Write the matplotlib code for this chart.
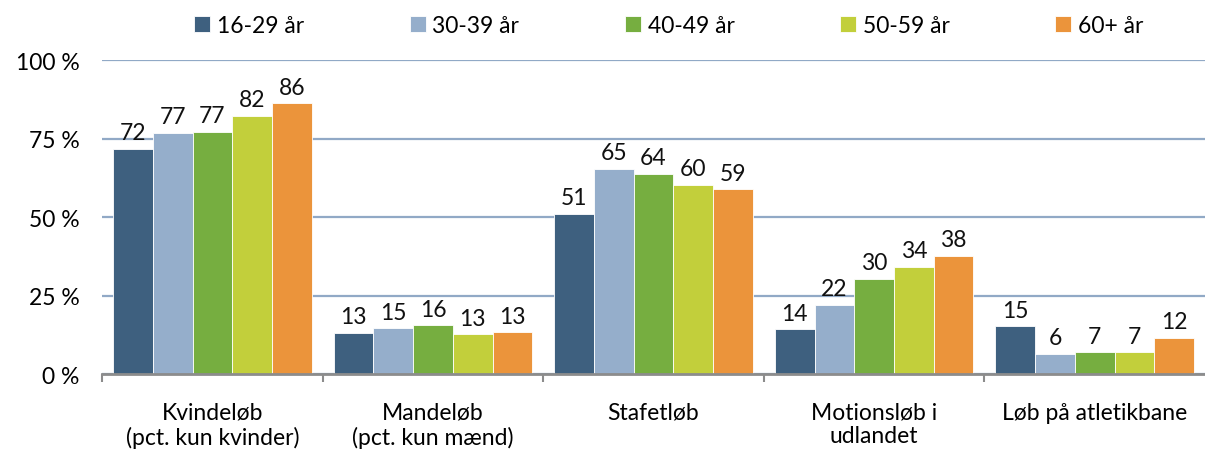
import matplotlib.pyplot as plt
import numpy as np

plt.rcParams['font.family'] = ['Lato', 'DejaVu Sans']

categories = ['Kvindeløb\n(pct. kun kvinder)', 'Mandeløb\n(pct. kun mænd)', 'Stafetløb',
              'Motionsløb i\nudlandet', 'Løb på atletikbane']
series = ['16-29 år', '30-39 år', '40-49 år', '50-59 år', '60+ år']
values = {
    '16-29 år': [71.7, 13.1, 51.0, 14.3, 15.3],
    '30-39 år': [76.8, 14.6, 65.3, 22.0, 6.4],
    '40-49 år': [77.1, 15.6, 63.7, 30.3, 7.0],
    '50-59 år': [82.2, 12.7, 60.2, 34.1, 7.0],
    '60+ år':   [86.3, 13.4, 58.9, 37.6, 11.5],
}
colors = ['#3E607F', '#95AECB', '#76AE40', '#C2CF3B', '#EB943B']
yticks = [0, 25, 50, 75, 100]

fs = 16.5
fig = plt.figure(figsize=(12.05, 4.52), dpi=100)
ax = fig.add_axes([0.0847, 0.170, 0.9153, 0.695])

x = np.arange(len(categories))
w = 0.18
for i, s in enumerate(series):
    pos = x + (i - 2) * w
    bars = ax.bar(pos, values[s], w, color=colors[i], label=s, edgecolor='white', linewidth=0.6, zorder=3)
    for b, v in zip(bars, values[s]):
        ax.annotate(f'{round(v)}', (b.get_x() + b.get_width() / 2, v), xytext=(0, 4),
                    textcoords='offset points', ha='center', va='bottom', fontsize=fs, color='#111111')

ax.set_xlim(-0.5, len(categories) - 0.5)
ax.set_ylim(0, 100)
ax.set_yticks(yticks)
ax.set_yticklabels([f'{t} %' for t in yticks], fontsize=fs)
ax.yaxis.grid(True, color='#91A9C6', linewidth=1.6, zorder=0)
ax.tick_params(axis='y', length=0, pad=16)

ax.set_xticks(x)
ax.set_xticklabels(categories, fontsize=fs, linespacing=1.15)
ax.set_xticks(np.arange(len(categories)) - 0.5, minor=True)
ax.tick_params(axis='x', which='major', length=0, pad=20)
ax.tick_params(axis='x', which='minor', length=6, width=1.5, color='#8C8C8C')

for sp in ['left', 'right', 'top']:
    ax.spines[sp].set_visible(False)
ax.spines['bottom'].set_color('#8C8C8C')
ax.spines['bottom'].set_linewidth(2)
ax.spines['bottom'].set_zorder(4)

fig.legend(loc='upper center', bbox_to_anchor=(0.555, 1.01), ncol=5, frameon=False,
           fontsize=fs, handlelength=0.7, handleheight=0.7, handletextpad=0.3,
           columnspacing=4.6)

fig.savefig('out.png', dpi=100)
